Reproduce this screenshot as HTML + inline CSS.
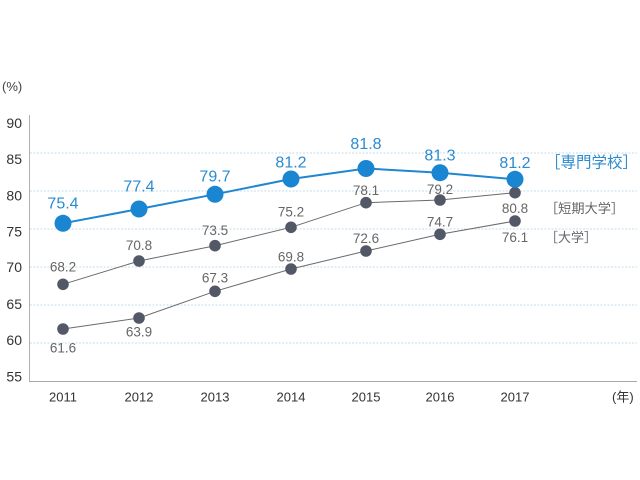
<!DOCTYPE html>
<html><head><meta charset="utf-8"><style>
html,body{margin:0;padding:0;background:#fff;}
svg{display:block;}
text{font-family:"Liberation Sans","Noto Sans CJK JP",sans-serif;}
</style></head><body>
<svg width="640" height="480" viewBox="0 0 640 480" xmlns="http://www.w3.org/2000/svg">
<rect width="640" height="480" fill="#fff"/>
<g stroke="#c6dcec" stroke-width="1" stroke-dasharray="2,1.5">
<line x1="30" y1="153" x2="637" y2="153"/>
<line x1="30" y1="191" x2="637" y2="191"/>
<line x1="30" y1="229" x2="637" y2="229"/>
<line x1="30" y1="267" x2="637" y2="267"/>
<line x1="30" y1="305" x2="637" y2="305"/>
<line x1="30" y1="343" x2="637" y2="343"/>
</g>
<line x1="29.5" y1="115" x2="29.5" y2="382" stroke="#b0b0b0" stroke-width="1"/>
<line x1="29" y1="381.5" x2="637" y2="381.5" stroke="#a8a8a8" stroke-width="1"/>
<g font-size="14" fill="#333" text-anchor="end">
<text x="22" y="128">90</text>
<text x="22" y="164">85</text>
<text x="22" y="200.5">80</text>
<text x="22" y="236.5">75</text>
<text x="22" y="272">70</text>
<text x="22" y="309">65</text>
<text x="22" y="345">60</text>
<text x="22" y="381.5">55</text>
</g>
<text x="2" y="91" font-size="13" fill="#444">(%)</text>
<g font-size="13" fill="#333" text-anchor="middle">
<text x="63" y="401.5">2011</text>
<text x="139" y="401.5">2012</text>
<text x="215" y="401.5">2013</text>
<text x="291" y="401.5">2014</text>
<text x="366" y="401.5">2015</text>
<text x="440" y="401.5">2016</text>
<text x="515" y="401.5">2017</text>
</g>
<text x="612" y="401.5" font-size="13" fill="#333">(年)</text>
<!-- lower gray -->
<polyline points="63,329 139,318 215,291.3 291,269 366,251 440,234.3 515,221" fill="none" stroke="#6a6a6a" stroke-width="1"/>
<g fill="#525866">
<circle cx="63" cy="329" r="5.8"/><circle cx="139" cy="318" r="5.8"/><circle cx="215" cy="291.3" r="5.8"/><circle cx="291" cy="269" r="5.8"/><circle cx="366" cy="251" r="5.8"/><circle cx="440" cy="234.3" r="5.8"/><circle cx="515" cy="221" r="5.8"/>
</g>
<!-- upper gray -->
<polyline points="63,284.3 139,261 215,245.7 291,227.3 366,202.7 440,200 515,192.7" fill="none" stroke="#6a6a6a" stroke-width="1"/>
<g fill="#525866">
<circle cx="63" cy="284.3" r="5.8"/><circle cx="139" cy="261" r="5.8"/><circle cx="215" cy="245.7" r="5.8"/><circle cx="291" cy="227.3" r="5.8"/><circle cx="366" cy="202.7" r="5.8"/><circle cx="440" cy="200" r="5.8"/><circle cx="515" cy="192.7" r="5.8"/>
</g>
<!-- blue -->
<polyline points="63,223.3 139,209 215,194.3 291,179 366,168.5 440,172.7 515,179.3" fill="none" stroke="#1f87d0" stroke-width="2"/>
<g fill="#1a86d2">
<circle cx="63" cy="223.3" r="8.5"/><circle cx="139" cy="209" r="8.5"/><circle cx="215" cy="194.3" r="8.5"/><circle cx="291" cy="179" r="8.5"/><circle cx="366" cy="168.5" r="8.5"/><circle cx="440" cy="172.7" r="8.5"/><circle cx="515" cy="179.3" r="8.5"/>
</g>
<g font-size="16" fill="#2a8bd0" text-anchor="middle">
<text x="63" y="208.6">75.4</text>
<text x="139" y="191.3">77.4</text>
<text x="215" y="181.6">79.7</text>
<text x="291" y="167.4">81.2</text>
<text x="366" y="148.9">81.8</text>
<text x="440" y="160.6">81.3</text>
<text x="515" y="167.9">81.2</text>
</g>
<g font-size="13.5" fill="#666" text-anchor="middle">
<text x="63" y="271.5">68.2</text>
<text x="139" y="249.8">70.8</text>
<text x="215" y="234.8">73.5</text>
<text x="291" y="216.5">75.2</text>
<text x="366" y="194.8">78.1</text>
<text x="440" y="193.8">79.2</text>
<text x="515" y="213.1">80.8</text>
<text x="63" y="352.5">61.6</text>
<text x="139" y="336.5">63.9</text>
<text x="215" y="282.5">67.3</text>
<text x="291" y="261.5">69.8</text>
<text x="366" y="243.1">72.6</text>
<text x="440" y="226.5">74.7</text>
<text x="515" y="242.1">76.1</text>
</g>
<text x="545" y="167.5" font-size="15.5" fill="#2a8bd0" font-family="'Noto Sans CJK JP',sans-serif">［専門学校］</text>
<text x="545" y="213" font-size="13.2" fill="#666" font-family="'Noto Sans CJK JP',sans-serif">［短期大学］</text>
<text x="545" y="242" font-size="13" fill="#666" font-family="'Noto Sans CJK JP',sans-serif">［大学］</text>
</svg>
</body></html>
